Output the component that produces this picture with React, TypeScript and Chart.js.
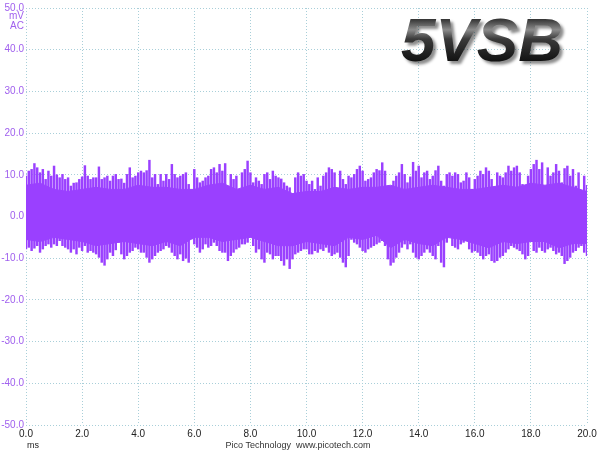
import React, { useEffect, useRef } from "react";
import { Chart, registerables } from "chart.js";

Chart.register(...registerables);

// time axis (ms) and voltage axis (mV)
const TIME_MIN = 0;
const TIME_MAX = 20;
const TIME_STEP_LABEL = 2;
const VOLT_MIN = -50;
const VOLT_MAX = 50;
const VOLT_STEP_LABEL = 10;

const TITLE = "5VSB";
const Y_UNIT = ["mV", "AC"];
const X_UNIT = "ms";
const FOOTER = "Pico Technology  www.picotech.com";

// sample interval of peak-detect columns (ms)
const SPIKE_INTERVAL = 0.1;
// upper peak of each column (mV)
const spikeHi = [
  9.7, 10.9, 11.3, 12.7, 11.7, 10.5, 11.3, 8.9, 10.9, 9.7,
  12.1, 10.0, 9.3, 10.1, 8.9, 9.3, 7.3, 8.0, 8.1, 8.9,
  9.5, 12.2, 9.7, 8.9, 9.3, 9.3, 11.9, 8.9, 9.3, 9.7,
  8.5, 9.7, 10.1, 8.9, 9.0, 8.0, 10.1, 11.7, 9.3, 9.7,
  10.5, 10.9, 10.5, 11.0, 13.5, 9.3, 10.1, 7.7, 10.1, 8.5,
  10.1, 8.9, 12.5, 10.1, 9.3, 9.7, 10.1, 10.5, 7.7, 6.0,
  11.3, 9.3, 8.1, 8.5, 9.3, 9.7, 11.3, 11.7, 10.5, 12.5,
  10.9, 12.7, 7.3, 10.1, 8.9, 9.7, 6.5, 10.5, 11.3, 13.3,
  10.5, 8.1, 9.3, 8.5, 7.7, 10.1, 10.5, 8.9, 10.9, 9.7,
  9.3, 9.0, 8.1, 7.3, 6.9, 5.5, 9.3, 10.5, 9.7, 10.1,
  8.5, 7.7, 8.5, 6.5, 9.3, 7.3, 9.7, 10.5, 11.7, 11.3,
  10.5, 6.0, 10.9, 8.9, 7.7, 9.7, 9.3, 10.1, 11.3, 12.1,
  10.9, 8.5, 8.9, 9.3, 10.5, 11.3, 11.0, 12.9, 10.9, 7.3,
  5.0, 8.5, 9.7, 10.5, 12.5, 10.1, 8.1, 9.5, 13.0, 10.9,
  12.1, 9.3, 10.5, 10.9, 8.9, 9.7, 11.0, 12.1, 8.5, 7.3,
  10.1, 10.5, 9.7, 10.5, 10.1, 8.1, 8.5, 10.5, 9.3, 6.5,
  8.9, 9.7, 10.9, 10.1, 11.7, 10.9, 8.9, 5.5, 10.5, 9.7,
  9.3, 10.5, 12.1, 10.9, 11.7, 12.1, 10.5, 7.7, 5.5, 9.7,
  11.3, 12.5, 13.5, 11.3, 12.9, 4.5, 11.7, 9.7, 10.5, 12.5,
  10.9, 8.1, 11.5, 12.1, 9.7, 11.3, 7.3, 10.5, 6.0, 9.7, 7.5,
];
// lower peak of each column (mV)
const spikeLo = [
  -7.8, -7.4, -8.2, -7.6, -7.0, -8.6, -7.8, -7.0, -6.6, -7.4,
  -6.6, -7.0, -5.8, -7.0, -7.4, -7.8, -8.6, -7.8, -9.0, -7.4,
  -8.2, -7.0, -8.6, -8.2, -8.6, -9.0, -9.8, -11.0, -11.7, -10.2,
  -8.6, -9.4, -8.0, -6.2, -9.0, -10.2, -9.4, -8.6, -8.2, -7.4,
  -7.8, -8.6, -8.6, -9.8, -11.0, -10.2, -9.4, -8.6, -8.2, -7.8,
  -7.0, -7.4, -8.6, -9.4, -10.2, -9.0, -10.6, -10.0, -11.0, -5.4,
  -6.6, -7.4, -8.6, -7.8, -6.6, -7.4, -7.0, -6.2, -7.0, -8.2,
  -8.6, -8.6, -10.6, -9.4, -8.6, -7.8, -7.4, -6.6, -6.6, -6.2,
  -5.0, -7.0, -8.6, -7.8, -10.2, -11.0, -8.6, -9.0, -10.2, -9.4,
  -9.4, -10.6, -11.7, -10.2, -12.5, -10.2, -9.0, -8.6, -8.2, -7.8,
  -7.8, -9.0, -9.0, -8.2, -8.6, -7.8, -8.2, -7.4, -8.6, -9.4,
  -9.0, -8.6, -9.8, -11.0, -12.1, -9.4, -5.5, -6.2, -6.6, -7.4,
  -8.2, -8.6, -7.8, -7.4, -7.0, -6.6, -6.2, -5.8, -7.0, -10.2,
  -11.7, -11.0, -9.8, -8.6, -7.4, -6.6, -7.8, -6.6, -8.6, -9.8,
  -10.2, -9.4, -8.6, -7.8, -8.6, -9.4, -10.2, -7.0, -11.0, -12.1,
  -6.2, -4.5, -7.0, -7.4, -7.8, -6.6, -6.2, -4.5, -7.8, -8.6,
  -8.2, -8.6, -9.4, -10.2, -9.4, -9.0, -10.6, -11.0, -10.6, -9.8,
  -9.4, -8.6, -7.8, -7.0, -7.4, -7.8, -8.2, -9.0, -10.2, -9.4,
  -6.0, -8.2, -8.6, -7.4, -8.2, -8.6, -7.8, -7.4, -8.2, -9.0,
  -8.6, -9.4, -11.3, -10.6, -9.8, -8.6, -8.2, -7.4, -7.0, -8.6, -9.4,
];

// dense (solid) part of the trace, every 0.5 ms
const BODY_INTERVAL = 0.5;
const bodyHi = [
  7.5, 8.0, 6.5, 6.0, 6.5, 7.0, 6.5, 6.5, 7.5, 7.0,
  7.0, 6.5, 6.5, 7.5, 8.0, 6.5, 7.5, 6.5, 7.0, 5.5,
  6.0, 6.0, 7.0, 6.5, 7.0, 7.0, 7.5, 6.5, 7.0, 7.5,
  7.0, 6.5, 6.5, 7.0, 7.5, 7.0, 8.0, 7.5, 8.0, 7.0, 6.0,
];
const bodyLo = [
  -5.5, -6.0, -5.0, -5.5, -6.0, -7.0, -6.5, -6.0, -6.5, -7.0,
  -6.0, -7.0, -5.0, -5.0, -6.0, -5.5, -5.0, -6.0, -7.0, -7.0,
  -6.0, -6.5, -7.0, -5.0, -5.5, -4.5, -7.5, -5.5, -6.5, -7.0,
  -5.0, -5.5, -6.5, -7.5, -6.0, -6.5, -6.0, -6.0, -7.5, -6.5, -6.5,
];

const TRACE_COLOR = "#9a40ff";
const SPIKE_COLOR = "#9a40ff";
const AXIS_COLOR = "#a060ee";
const GRID_COLOR = "#a9cfd9";
const FONT = "'Liberation Sans', Arial, sans-serif";

const textPlugin = {
  id: "picoText",
  afterDraw(chart: any) {
    const ctx = chart.ctx as CanvasRenderingContext2D;
    ctx.save();
    // unit label of y axis
    ctx.fillStyle = AXIS_COLOR;
    ctx.font = `10px ${FONT}`;
    ctx.textAlign = "right";
    ctx.textBaseline = "middle";
    ctx.fillText(Y_UNIT[0], 24, 16);
    ctx.fillText(Y_UNIT[1], 24, 26);
    // x unit and footer
    ctx.font = `9px ${FONT}`;
    ctx.fillStyle = "#222";
    ctx.textAlign = "left";
    ctx.fillText(X_UNIT, 27, 446);
    ctx.fillStyle = "#333";
    ctx.textAlign = "center";
    ctx.fillText(FOOTER, 298, 446);
    // big title
    ctx.font = `italic bold 62px ${FONT}`;
    ctx.textAlign = "center";
    ctx.textBaseline = "alphabetic";
    const g = ctx.createLinearGradient(0, 16, 0, 62);
    g.addColorStop(0, "#1a1a1a");
    g.addColorStop(0.3, "#8c8c8c");
    g.addColorStop(0.5, "#3a3a3a");
    g.addColorStop(1, "#111");
    ctx.shadowColor = "rgba(0,0,0,0.45)";
    ctx.shadowOffsetX = 3;
    ctx.shadowOffsetY = 3;
    ctx.shadowBlur = 3;
    ctx.fillStyle = g;
    ctx.fillText(TITLE, 482, 61);
    ctx.restore();
  },
};

export default function App() {
  const ref = useRef<HTMLCanvasElement | null>(null);
  useEffect(() => {
    document.body.style.margin = "0";
    document.body.style.background = "#fff";
    const canvas = ref.current;
    if (!canvas) return;
    const spikes = spikeHi.map((hi, i) => ({ x: i * SPIKE_INTERVAL, y: [spikeLo[i], hi] }));
    const hiLine = bodyHi.map((v, i) => ({ x: i * BODY_INTERVAL, y: v }));
    const loLine = bodyLo.map((v, i) => ({ x: i * BODY_INTERVAL, y: v }));
    const chart = new Chart(canvas, {
      type: "bar",
      data: {
        datasets: [
          {
            type: "line",
            data: hiLine,
            borderColor: TRACE_COLOR,
            borderWidth: 1,
            backgroundColor: TRACE_COLOR,
            pointRadius: 0,
            fill: 1,
            tension: 0,
            order: 0,
          } as any,
          {
            type: "line",
            data: loLine,
            borderColor: TRACE_COLOR,
            borderWidth: 1,
            pointRadius: 0,
            fill: false,
            tension: 0,
            order: 0,
          } as any,
          {
            type: "bar",
            data: spikes,
            backgroundColor: SPIKE_COLOR,
            borderWidth: 0,
            barThickness: 1.8,
            grouped: false,
            order: 1,
          } as any,
        ],
      },
      options: {
        animation: false,
        responsive: false,
        devicePixelRatio: 1,
        layout: { padding: { left: 0, top: 4, right: 13, bottom: 0 } },
        plugins: { legend: { display: false }, tooltip: { enabled: false } },
        scales: {
          x: {
            type: "linear",
            min: TIME_MIN,
            max: TIME_MAX,
            offset: false,
            afterFit: (s: any) => { s.height = 25; },
            ticks: {
              stepSize: TIME_STEP_LABEL,
              autoSkip: false,
              maxRotation: 0,
              padding: 3,
              color: "#222",
              font: { family: FONT, size: 10 },
              callback: (v: any) => Number(v).toFixed(1),
            },
            grid: { color: GRID_COLOR, drawTicks: false, tickLength: 0, offset: false },
            border: { display: false, dash: [1, 2] },
          },
          y: {
            min: VOLT_MIN,
            max: VOLT_MAX,
            afterFit: (s: any) => { s.width = 26; },
            ticks: {
              stepSize: VOLT_STEP_LABEL,
              padding: 2,
              color: AXIS_COLOR,
              font: { family: FONT, size: 10 },
              callback: (v: any) => Number(v).toFixed(1),
            },
            grid: { color: GRID_COLOR, drawTicks: false, tickLength: 0 },
            border: { display: false, dash: [1, 2] },
          },
        },
      } as any,
      plugins: [textPlugin],
    });
    return () => chart.destroy();
  }, []);
  return (
    <div style={{ width: 600, height: 450 }}>
      <canvas ref={ref} width={600} height={450} style={{ display: "block" }} />
    </div>
  );
}
